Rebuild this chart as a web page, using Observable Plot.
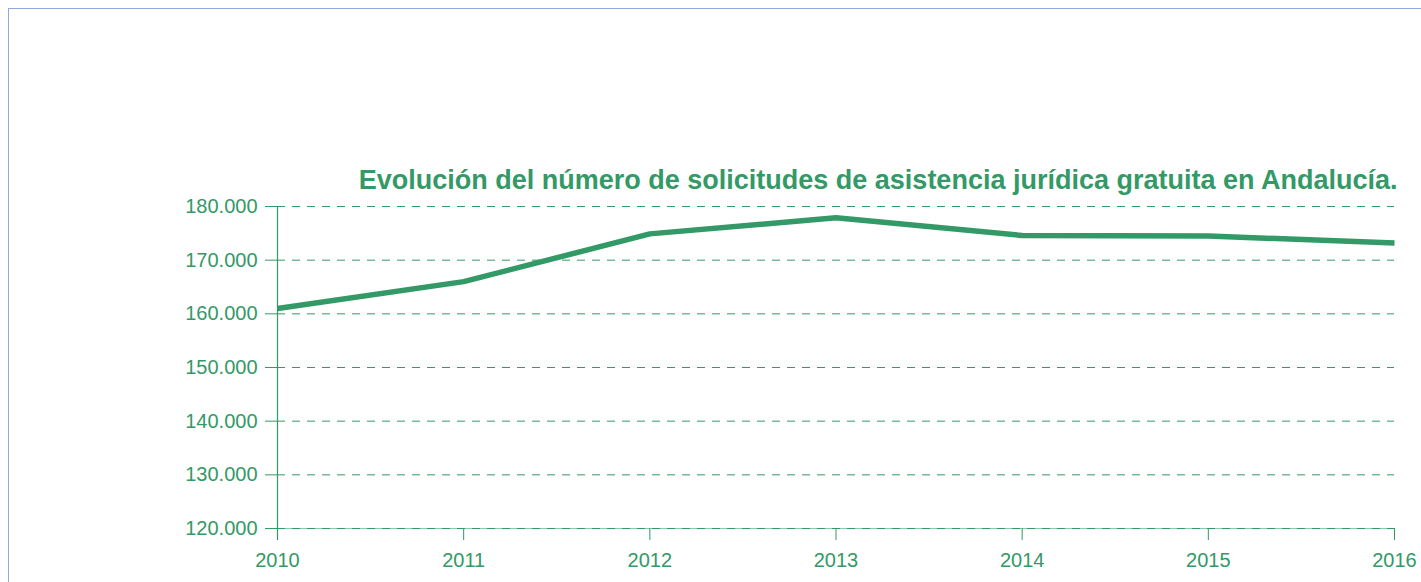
<!DOCTYPE html>
<html>
<head>
<meta charset="utf-8">
<script src="https://cdn.jsdelivr.net/npm/d3@7"></script>
<script src="https://cdn.jsdelivr.net/npm/@observablehq/plot@0.6"></script>
<style>
  html, body { margin: 0; padding: 0; background: #fff; overflow: hidden; }
  #frame { position: absolute; left: 8px; top: 8px; width: 1500px; height: 700px; border: 1px solid #8eaadb; box-sizing: border-box; }
  #chart { position: absolute; left: 0; top: 0; }
  svg { font-family: "Liberation Sans", Arial, sans-serif; }
</style>
</head>
<body>
<div id="frame"></div>
<div id="chart"></div>
<script>
const years = [2010, 2011, 2012, 2013, 2014, 2015, 2016];
const solicitudes = [161000, 166000, 174900, 177900, 174600, 174500, 173200];
const yTicks = [120000, 130000, 140000, 150000, 160000, 170000, 180000];
const titleText = "Evolución del número de solicitudes de asistencia jurídica gratuita en Andalucía.";

const green = "#339966";
const esLocale = d3.formatLocale({decimal: ",", thousands: ".", grouping: [3], currency: ["", " €"]});
const fmt = esLocale.format(",");

const data = years.map((y, i) => ({year: y, value: solicitudes[i]}));

const chart = Plot.plot({
  width: 1421,
  height: 582,
  marginLeft: 277,
  marginRight: 27,
  marginTop: 206,
  marginBottom: 54,
  style: {fontFamily: "'Liberation Sans', Arial, sans-serif", color: green, background: "transparent"},
  x: {domain: [years[0], years[years.length - 1]], ticks: years, tickFormat: d => String(d)},
  y: {domain: [yTicks[0], yTicks[yTicks.length - 1]], ticks: yTicks, tickFormat: fmt},
  marks: [
    Plot.gridY(yTicks, {stroke: green, strokeOpacity: 1, strokeWidth: 1, strokeDasharray: "8,7"}),
    Plot.ruleY([yTicks[0]], {stroke: green, strokeOpacity: 0.55, strokeWidth: 1}),
    Plot.ruleX([years[0]], {stroke: green, strokeWidth: 1.2, insetBottom: -12}),
    Plot.axisY({ticks: yTicks, tickFormat: fmt, tickSize: 12, tickPadding: 8, fontSize: 20, label: null, stroke: green, color: green}),
    Plot.axisX({ticks: years, tickFormat: d => String(d), tickSize: 12, tickPadding: 12, fontSize: 20, label: null, stroke: green}),
    Plot.line(data, {x: "year", y: "value", stroke: green, strokeWidth: 5.5, strokeLinejoin: "miter", strokeLinecap: "butt"}),
    Plot.text([titleText], {frameAnchor: "top-right", text: d => d, textAnchor: "end", lineAnchor: "bottom", dx: 3, dy: -18, fontSize: 27, fontWeight: "bold", fill: green})
  ]
});
document.getElementById("chart").appendChild(chart);
</script>
</body>
</html>
